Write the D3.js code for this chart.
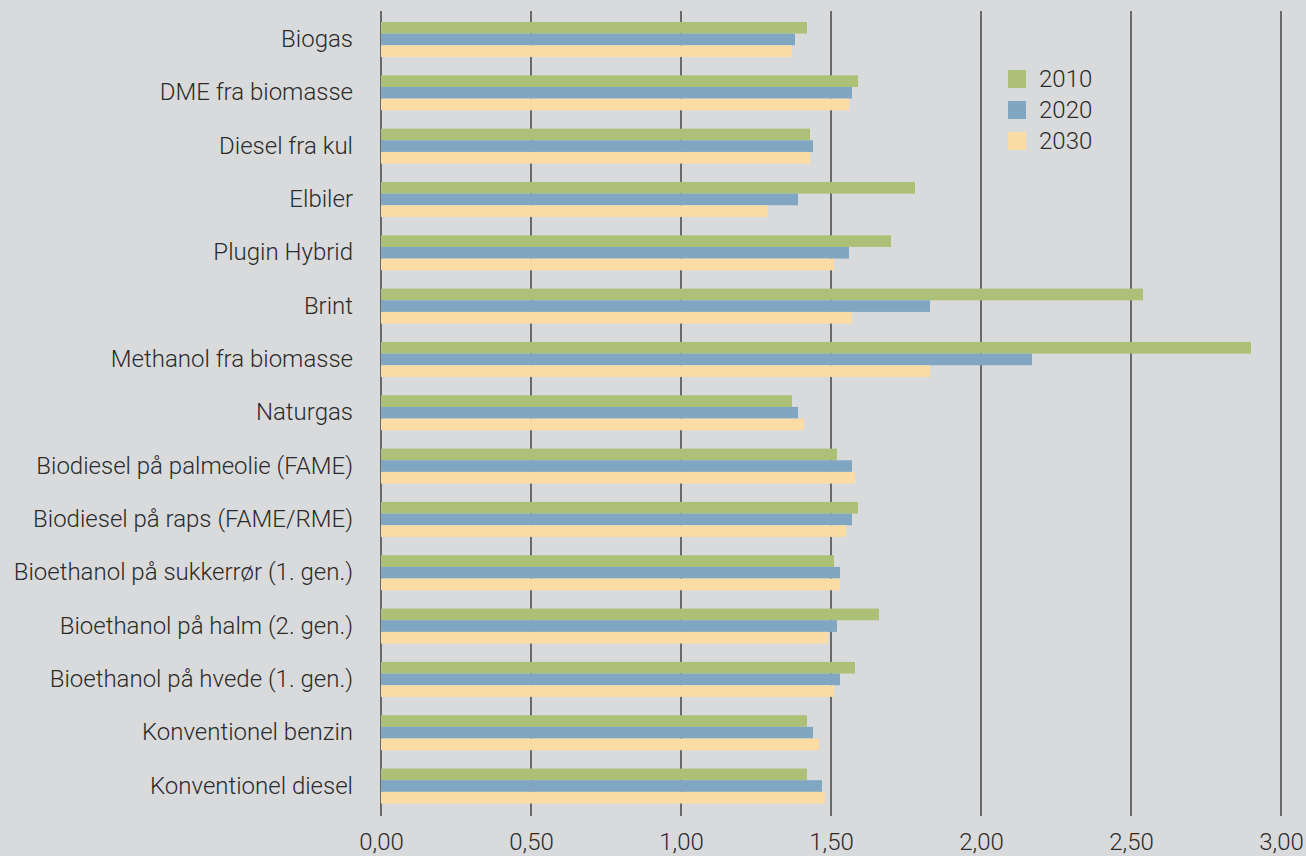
<!DOCTYPE html>
<html>
<head>
<meta charset="utf-8">
<script src="https://cdn.jsdelivr.net/npm/d3@7"></script>
<style>
  html, body { margin: 0; padding: 0; background: #d9dadb; }
  svg { display: block; }
  text { font-family: Roboto, "Noto Sans", sans-serif; font-weight: 300; fill: #2b2b2b; }
</style>
</head>
<body>
<div id="chart"></div>
<script>
// categories, top to bottom
const categories = [
  'Biogas',
  'DME fra biomasse',
  'Diesel fra kul',
  'Elbiler',
  'Plugin Hybrid',
  'Brint',
  'Methanol fra biomasse',
  'Naturgas',
  'Biodiesel på palmeolie (FAME)',
  'Biodiesel på raps (FAME/RME)',
  'Bioethanol på sukkerrør (1. gen.)',
  'Bioethanol på halm (2. gen.)',
  'Bioethanol på hvede (1. gen.)',
  'Konventionel benzin',
  'Konventionel diesel'
];

// series values
const years = ['2010', '2020', '2030'];
const values2010 = [1.42, 1.59, 1.43, 1.78, 1.70, 2.54, 2.90, 1.37, 1.52, 1.59, 1.51, 1.66, 1.58, 1.42, 1.42];
const values2020 = [1.38, 1.57, 1.44, 1.39, 1.56, 1.83, 2.17, 1.39, 1.57, 1.57, 1.53, 1.52, 1.53, 1.44, 1.47];
const values2030 = [1.37, 1.56, 1.43, 1.29, 1.51, 1.57, 1.83, 1.41, 1.58, 1.55, 1.53, 1.49, 1.51, 1.46, 1.48];

// x tick values
const xTicks = [0, 0.5, 1, 1.5, 2, 2.5, 3];

const colors = ['#acc078', '#80a6c1', '#fadca4'];

const w = 1306;
const h = 856;

const series = [values2010, values2020, values2030];
const rows = categories.map((c, i) => ({
  name: c,
  vals: years.map((y, j) => ({ year: y, value: series[j][i] }))
}));

const svg = d3.select('#chart')
    .append('svg')
    .attr('width', w)
    .attr('height', h);

// Scales
const xScale = d3.scaleLinear()
    .domain([0, 3])
    .range([381, 1281]);

const yScale = d3.scaleBand()
    .domain(categories)
    .range([12.8, 812.7])
    .paddingInner(0.344)
    .paddingOuter(0.172);

const subScale = d3.scaleBand()
    .domain(years)
    .range([0, yScale.bandwidth()]);

const colorScale = d3.scaleOrdinal()
    .domain(years)
    .range(colors);

// Gridlines
svg.append('g')
    .selectAll('line')
    .data(xTicks)
    .enter()
    .append('line')
    .attr('x1', (d) => xScale(d))
    .attr('x2', (d) => xScale(d))
    .attr('y1', 11)
    .attr('y2', 816)
    .attr('stroke', (d) => d === 0 ? '#6a6a6a' : '#3a3a3a')
    .attr('stroke-width', (d) => d === 0 ? 2 : 1.4);

// Bars
const groups = svg.append('g')
    .selectAll('g')
    .data(rows)
    .enter()
    .append('g')
    .attr('transform', (d) => 'translate(0,' + yScale(d.name) + ')');

groups.selectAll('rect')
    .data((d) => d.vals)
    .enter()
    .append('rect')
    .attr('x', xScale(0))
    .attr('y', (d) => subScale(d.year))
    .attr('width', (d) => xScale(d.value) - xScale(0))
    .attr('height', subScale.bandwidth())
    .attr('fill', (d) => colorScale(d.year));

// Category labels
const yAxis = d3.axisLeft(yScale).tickSize(0).tickPadding(28);
const yAxisG = svg.append('g')
    .attr('transform', 'translate(381,0)')
    .call(yAxis);
yAxisG.select('.domain').remove();
yAxisG.selectAll('text')
    .attr('font-size', 24)
    .style('font-family', 'Roboto, sans-serif')
    .style('font-weight', 300)
    .style('fill', '#2b2b2b');

// X axis tick labels
const xAxis = d3.axisBottom(xScale)
    .tickValues(xTicks)
    .tickSize(0)
    .tickPadding(0)
    .tickFormat((d) => d3.format('.2f')(d).replace('.', ','));
const xAxisG = svg.append('g')
    .attr('transform', 'translate(0,833)')
    .call(xAxis);
xAxisG.select('.domain').remove();
xAxisG.selectAll('text')
    .attr('font-size', 24)
    .style('font-family', 'Roboto, sans-serif')
    .style('font-weight', 300)
    .style('fill', '#2b2b2b');

// Legend
const legend = svg.append('g')
    .attr('transform', 'translate(1008,70)');

const legendItems = legend.selectAll('g')
    .data(years)
    .enter()
    .append('g')
    .attr('transform', (d, i) => 'translate(0,' + i * 31 + ')');

legendItems.append('rect')
    .attr('width', 18)
    .attr('height', 18)
    .attr('fill', (d) => colorScale(d));

legendItems.append('text')
    .attr('x', 31)
    .attr('y', 9)
    .attr('dy', '0.35em')
    .attr('font-size', 24)
    .text((d) => d);
</script>
</body>
</html>
